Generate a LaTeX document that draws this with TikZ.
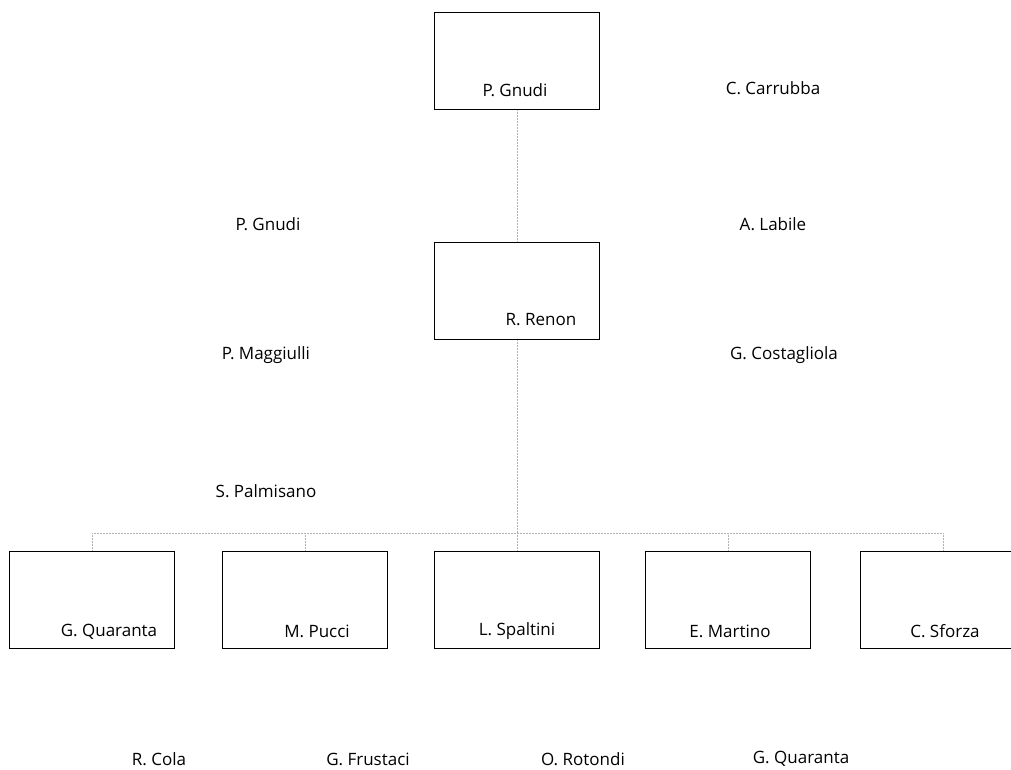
\documentclass[tikz,border=0pt]{standalone}
\usepackage{fontspec}
\setmainfont{Open Sans}

\begin{document}
\begin{tikzpicture}[x=1pt, y=-1pt, font=\fontsize{17}{19}\selectfont,
  box/.style={draw, line width=1.8pt, minimum width=165pt, minimum height=97pt, inner sep=0pt},
  link/.style={gray!60, densely dotted, line width=0.5pt}]
  \useasboundingbox (0,0) rectangle (1011,770);
  % boxes
  \node[box] (gnudi) at (517,61) {};
  \node[box] (renon) at (517,291) {};
  \node[box] (quaranta) at (92,600) {};
  \node[box] (pucci) at (305,600) {};
  \node[box] (spaltini) at (517,600) {};
  \node[box] (martino) at (728,600) {};
  \node[box] (sforza) at (943,600) {};
  % names in the boxes
  \node at ([xshift=-2, yshift=20]gnudi.south) (gnudiT) {P. Gnudi};
  \node at ([xshift=24, yshift=21]renon.south) (renonT) {R. Renon};
  \node at ([xshift=17, yshift=18]quaranta.south) (quarantaT) {G. Quaranta};
  \node at ([xshift=12, yshift=18]pucci.south) (pucciT) {M. Pucci};
  \node at ([yshift=18]spaltini.south) (spaltiniT) {L. Spaltini};
  \node at ([xshift=2, yshift=18]martino.south) (martinoT) {E. Martino};
  \node at ([xshift=2, yshift=18]sforza.south) (sforzaT) {C. Sforza};
  % loose names
  \node (carrubba) at (773,88) {C. Carrubba};
  \node (gnudiB) at (268,224) {P. Gnudi};
  \node (labile) at (773,224) {A. Labile};
  \node (maggiulli) at (266,355) {P. Maggiulli};
  \node (costagliola) at (784,355) {G. Costagliola};
  \node (palmisano) at (266,491) {S. Palmisano};
  \node[inner sep=1pt] (cola) at (159,759) {R. Cola};
  \node[inner sep=1pt] (frustaci) at (368,759) {G. Frustaci};
  \node[inner sep=1pt] (rotondi) at (583,759) {O. Rotondi};
  \node[inner sep=1pt] (quarantaB) at (801,759) {G. Quaranta};
  % connectors
  \coordinate (bus) at (517,533);
  \draw[link] (gnudi.south) -- (renon.north);
  \draw[link] (renon.south) -- (bus);
  \draw[link] (quaranta.north |- bus) -- (sforza.north |- bus);
  \foreach \b in {quaranta,pucci,spaltini,martino,sforza}
    \draw[link] (\b.north |- bus) -- (\b.north);
\end{tikzpicture}
\end{document}
